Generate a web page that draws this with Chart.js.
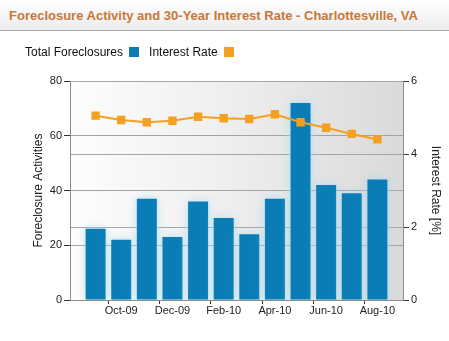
<!DOCTYPE html>
<html>
<head>
<meta charset="utf-8">
<script src="https://cdn.jsdelivr.net/npm/chart.js@4"></script>
<style>
    body { margin: 0; background: #fff; font-family: "Liberation Sans", Arial, sans-serif; }
    #wrap { position: relative; width: 449px; height: 341px; overflow: hidden; }
    #header {
        position: absolute; left: 0; top: 0; width: 449px; height: 30px;
        background: linear-gradient(#ffffff, #ececec);
        border-bottom: 1px solid #a9a9a9;
    }
    #header h1 {
        margin: 0; position: absolute; left: 9px; top: 8px;
        font-size: 13px; font-weight: bold; color: #c8783a; white-space: nowrap;
    }
    #legend { position: absolute; left: 25px; top: 45px; font-size: 12px; color: #111; white-space: nowrap; }
    #legend span.box { display: inline-block; width: 10px; height: 10px; vertical-align: -1px; margin: 0 10px 0 6px; }
    #chart { position: absolute; left: 0; top: 0; }
</style>
</head>
<body>
<div id="wrap">
    <canvas id="chart" width="449" height="341"></canvas>
    <div id="header"><h1>Foreclosure Activity and 30-Year Interest Rate - Charlottesville, VA</h1></div>
    <div id="legend">Total Foreclosures<span class="box" style="background:#0a7db6"></span>Interest Rate<span class="box" style="background:#f5a021"></span></div>
</div>
<script>
// monthly figures, Sep-09 .. Aug-10
var months = ['Sep-09', 'Oct-09', 'Nov-09', 'Dec-09', 'Jan-10', 'Feb-10', 'Mar-10', 'Apr-10', 'May-10', 'Jun-10', 'Jul-10', 'Aug-10'];
var foreclosures = [26, 22, 37, 23, 36, 30, 24, 37, 72, 42, 39, 44];
var interestRate = [5.05, 4.93, 4.87, 4.91, 5.02, 4.98, 4.96, 5.09, 4.87, 4.72, 4.55, 4.40];
var leftTicks = [0, 20, 40, 60, 80];
var rightTicks = [0, 2, 4, 6];

// one empty month on each side so the bars sit a full step in from the edges
var axisLabels = ['Aug-09'].concat(months, ['Sep-10']);
var barData = [null].concat(foreclosures, [null]);
var lineData = [null].concat(interestRate, [null]);
var shownLabels = ['Oct-09', 'Dec-09', 'Feb-10', 'Apr-10', 'Jun-10', 'Aug-10'];

// plot background: pale on the left fading to grey on the right
var plotBackground = {
    id: 'plotBackground',
    beforeDraw: function (chart) {
        var a = chart.chartArea, ctx = chart.ctx;
        var g = ctx.createLinearGradient(a.left, 0, a.right, 0);
        g.addColorStop(0, '#fdfdfd');
        g.addColorStop(0.4, '#f1f1f1');
        g.addColorStop(1, '#dadada');
        ctx.save();
        ctx.fillStyle = g;
        ctx.fillRect(a.left, a.top, a.right - a.left, a.bottom - a.top);
        ctx.restore();
    },
    beforeDatasetDraw: function (chart, args) {
        if (args.meta.type === 'bar') {
            chart.ctx.save();
            chart.ctx.shadowColor = 'rgba(170, 220, 240, 0.9)';
            chart.ctx.shadowBlur = 8;
        }
    },
    afterDatasetDraw: function (chart, args) {
        if (args.meta.type === 'bar') chart.ctx.restore();
    }
};

var tickFont = { family: '"Liberation Sans", Arial, sans-serif', size: 11 };

new Chart(document.getElementById('chart'), {
    data: {
        labels: axisLabels,
        datasets: [{
            type: 'line',
            label: 'Interest Rate',
            data: lineData,
            yAxisID: 'y1',
            borderColor: '#f5a021',
            backgroundColor: '#f5a021',
            borderWidth: 2,
            pointStyle: 'rect',
            pointRadius: 4.5,
            pointHoverRadius: 4.5,
            tension: 0,
            order: 0
        }, {
            type: 'bar',
            label: 'Total Foreclosures',
            data: barData,
            yAxisID: 'y',
            backgroundColor: '#0a7db6',
            categoryPercentage: 1,
            barPercentage: 0.78,
            order: 1
        }]
    },
    options: {
        responsive: false,
        animation: false,
        layout: { padding: { top: 81, left: 0, right: 0, bottom: 0 } },
        plugins: { legend: { display: false }, tooltip: { enabled: false } },
        scales: {
            x: {
                offset: false,
                afterFit: function (s) { s.height = 41; },
                grid: {
                    drawOnChartArea: false,
                    tickLength: 4,
                    color: function (c) { return c.index % 2 === 0 && c.index < 13 ? '#333' : 'rgba(0,0,0,0)'; }
                },
                border: { color: '#8c8c8c' },
                ticks: {
                    autoSkip: false, maxRotation: 0, color: '#222', font: tickFont, padding: 0,
                    callback: function (v, i) { return shownLabels.indexOf(axisLabels[i]) >= 0 ? axisLabels[i] : ''; }
                }
            },
            y: {
                position: 'left',
                min: 0, max: 80,
                afterFit: function (s) { s.width = 70; },
                afterBuildTicks: function (s) { s.ticks = leftTicks.map(function (v) { return { value: v }; }); },
                grid: { color: '#a3a3a3', tickColor: '#333', tickLength: 6 },
                border: { color: '#8c8c8c' },
                ticks: { color: '#222', font: tickFont, padding: 2 },
                title: {
                    display: true, text: 'Foreclosure Activities', color: '#222',
                    font: { family: '"Liberation Sans", Arial, sans-serif', size: 12 },
                    padding: { top: 31, bottom: 0 }
                }
            },
            y1: {
                position: 'right',
                min: 0, max: 6,
                afterFit: function (s) { s.width = 46; },
                afterBuildTicks: function (s) { s.ticks = rightTicks.map(function (v) { return { value: v }; }); },
                grid: {
                    color: '#a5a5a5', borderDash: [2, 2], tickBorderDash: [],
                    tickColor: '#333', tickLength: 6
                },
                border: { color: '#8c8c8c' },
                ticks: { color: '#222', font: tickFont, padding: 2 },
                title: {
                    display: true, text: 'Interest Rate [%]', color: '#222',
                    font: { family: '"Liberation Sans", Arial, sans-serif', size: 12 },
                    padding: { top: 6, bottom: 0 }
                }
            }
        }
    },
    plugins: [plotBackground]
});
</script>
</body>
</html>
